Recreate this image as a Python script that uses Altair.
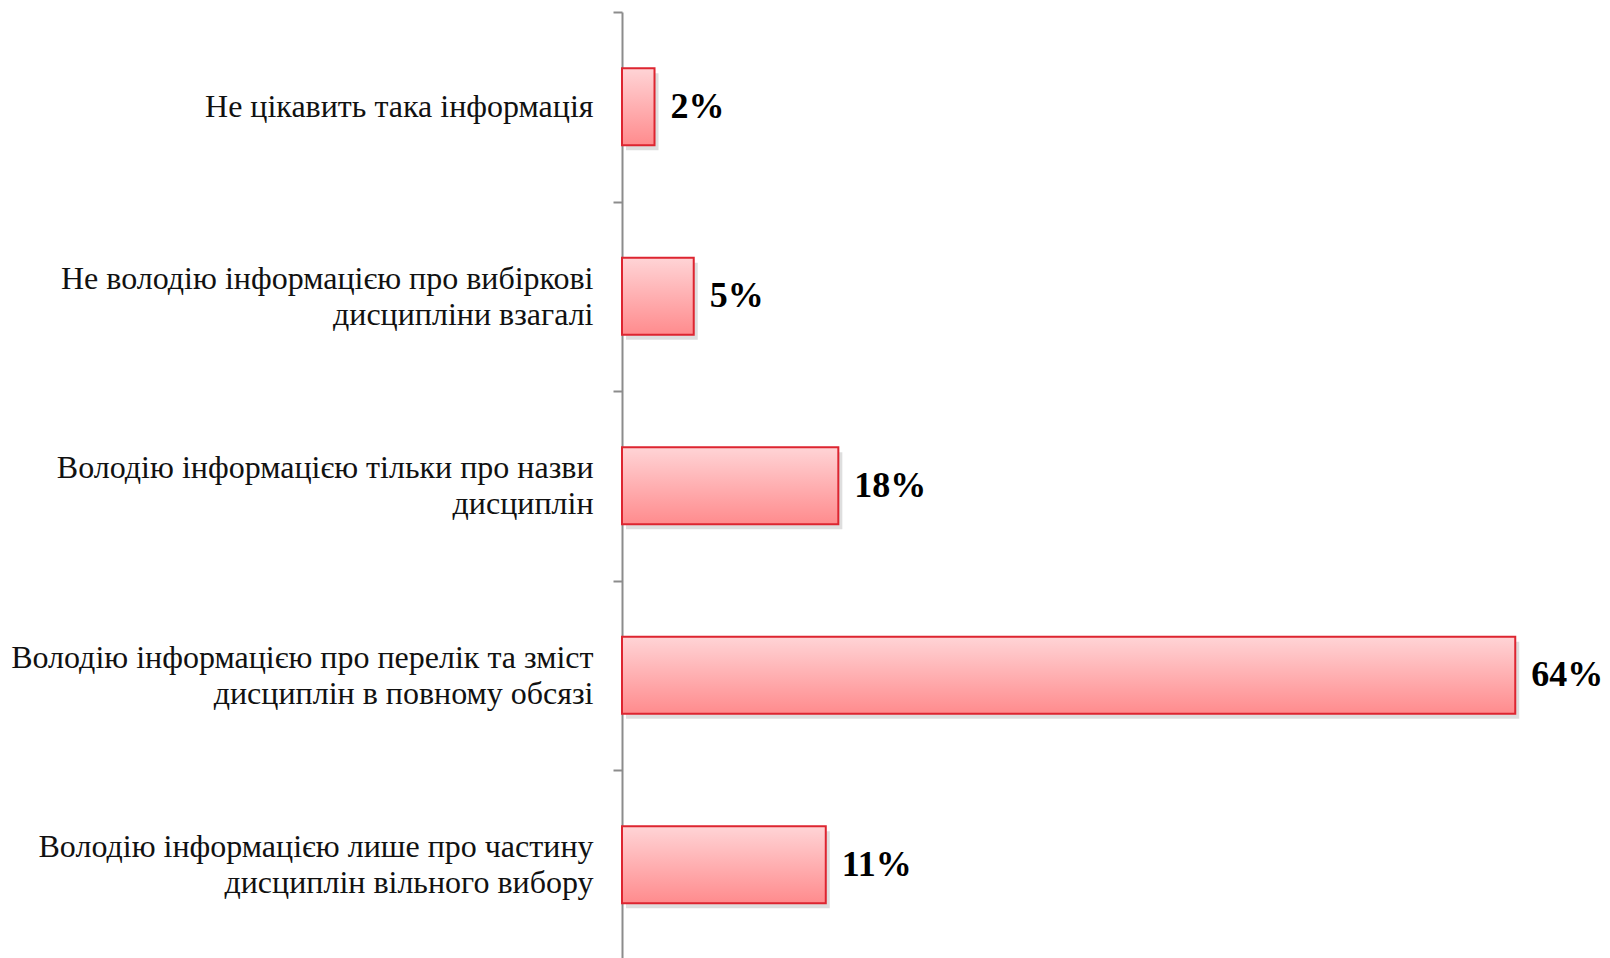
import altair as alt
import pandas as pd

categories = [
    "Не цікавить така інформація",
    "Не володію інформацією про вибіркові|дисципліни взагалі",
    "Володію інформацією тільки про назви|дисциплін",
    "Володію інформацією про перелік та зміст|дисциплін в повному обсязі",
    "Володію інформацією лише про частину|дисциплін вільного вибору",
]
values = [2.33, 5.14, 15.5, 64.0, 14.6]
labels = ["2%", "5%", "18%", "64%", "11%"]

df = pd.DataFrame({"cat": categories, "value": values, "label": labels})

STEP = 947.5 / 5

y_enc = alt.Y(
    "cat:N",
    sort=categories,
    scale=alt.Scale(paddingInner=0.594, paddingOuter=0.297),
    axis=alt.Axis(
        title=None,
        labelExpr="split(datum.label, '|')",
        labelFont="Liberation Serif",
        labelFontSize=32,
        labelLineHeight=36,
        labelColor="#111111",
        labelLimit=0,
        labelPadding=20,
        tickOffset=-STEP / 2,
        labelOffset={
            "condition": {"test": "indexof(datum.label, '|') >= 0", "value": STEP / 2 - 18},
            "value": STEP / 2,
        },
        tickSize=9,
        tickColor="#8c8c8c",
        tickWidth=2,
        domainColor="#8c8c8c",
        domainWidth=2,
        grid=False,
    ),
)
x_enc = alt.X("value:Q", scale=alt.Scale(domain=[0, 70], nice=False), axis=None)

base = alt.Chart(df)

shadow = base.mark_bar(color="#000000", opacity=0.13, xOffset=4, yOffset=5, y2Offset=5).encode(
    x=x_enc, y=y_enc
)

bars = base.mark_bar(
    color=alt.Gradient(
        gradient="linear",
        stops=[
            alt.GradientStop(color="#ffd4d6", offset=0),
            alt.GradientStop(color="#ff8b8d", offset=1),
        ],
        x1=0, x2=0, y1=0, y2=1,
    ),
    stroke="#dd2530",
    strokeWidth=2,
).encode(x=x_enc, y=y_enc)

text = base.mark_text(
    align="left",
    baseline="middle",
    dx=16,
    font="Liberation Serif",
    fontSize=36,
    fontWeight="bold",
    color="#000000",
).encode(x=x_enc, y=y_enc, text="label:N")

chart = (
    alt.layer(shadow, bars, text)
    .properties(
        width=977,
        height=947.5,
        autosize=alt.AutoSizeParams(type="none"),
        padding={"left": 614, "top": 4, "right": 3, "bottom": 0},
        background="#ffffff",
    )
    .configure_view(stroke=None)
)

chart.save("out.html", embed_options={"renderer": "svg", "actions": False})
